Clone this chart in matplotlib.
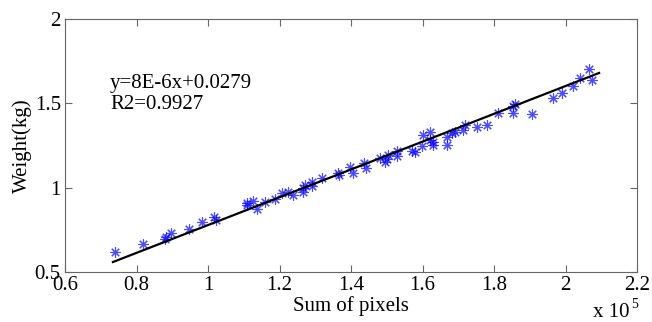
"""Weight vs sum of pixels: scatter with linear fit line."""

import numpy as np
import matplotlib
matplotlib.use("Agg")
import matplotlib.pyplot as plt

plt.rcParams["font.family"] = ["Liberation Serif", "DejaVu Serif"]

sum_pixels = [
    0.74, 0.818, 0.88, 0.882, 0.896, 0.947, 0.983, 1.017, 1.022,
    1.109, 1.110, 1.126, 1.137, 1.16, 1.187, 1.207, 1.224, 1.238,
    1.266, 1.266, 1.27, 1.29, 1.29, 1.32, 1.364, 1.366, 1.397, 1.405,
    1.436, 1.442, 1.48, 1.495, 1.503, 1.50, 1.529, 1.53, 1.571, 1.579,
    1.599, 1.60, 1.621, 1.621, 1.629, 1.629, 1.668, 1.668, 1.683, 1.69,
    1.719, 1.713, 1.752, 1.78, 1.811, 1.853, 1.853, 1.859,
    1.906, 1.965, 1.99, 2.021, 2.04, 2.066, 2.074,
]
weight = [
    0.62, 0.666, 0.696, 0.71, 0.73, 0.755, 0.797, 0.826, 0.808,
    0.909, 0.895, 0.92, 0.873, 0.915, 0.933, 0.968, 0.974, 0.956,
    0.998, 0.975, 1.016, 1.034, 1.01, 1.057, 1.087, 1.078, 1.122, 1.087,
    1.146, 1.116, 1.176, 1.152, 1.193, 1.17, 1.19, 1.22, 1.22, 1.21,
    1.247, 1.312, 1.33, 1.282, 1.27, 1.253, 1.30, 1.253, 1.324, 1.33,
    1.37, 1.342, 1.36, 1.37, 1.442, 1.442, 1.484, 1.496,
    1.437, 1.53, 1.56, 1.603, 1.65, 1.703, 1.638,
]

# fitted line as drawn
fit_x = [0.734, 2.094]
fit_y = [0.559, 1.68]
fit_text = "y=8E-6x+0.0279\nR2=0.9927"

FS = 15

fig = plt.figure(figsize=(6.52, 3.22), dpi=100)
ax = fig.add_axes([0.0997, 0.1553, 0.8773, 0.7857])

ax.plot(sum_pixels, weight, linestyle="none", marker=(8, 2, 0), markersize=7.5,
        markeredgewidth=0.8, color="#0000ff", alpha=0.7)
ax.plot(fit_x, fit_y, color="black", linewidth=1.6)

ax.set_xlim(0.6, 2.2)
ax.set_ylim(0.5, 2)
ax.set_xticks([0.6, 0.8, 1, 1.2, 1.4, 1.6, 1.8, 2, 2.2])
ax.set_xticklabels(["0.6", "0.8", "1", "1.2", "1.4", "1.6", "1.8", "2", "2.2"])
ax.set_yticks([0.5, 1, 1.5, 2])
ax.set_yticklabels(["0.5", "1", "1.5", "2"])
ax.tick_params(direction="in", length=5, width=0.8, color="#666666",
               labelsize=FS, top=True, right=True, pad=3)
for s in ax.spines.values():
    s.set_color("#666666")
    s.set_linewidth(0.8)

ax.text(0.726, 1.672, fit_text, fontsize=FS, va="top", ha="left", linespacing=1.15)
ax.set_xlabel("Sum of pixels", fontsize=FS)
ax.xaxis.set_label_coords(0.5, -0.095)
ax.set_ylabel("Weight(kg)", fontsize=FS)
ax.yaxis.set_label_coords(-0.058, 0.5)

fig.text(0.909, 0.016, "x 10", fontsize=FS, ha="left", va="baseline")
fig.text(0.968, 0.044, "5", fontsize=10, ha="left", va="baseline")

fig.savefig("out.png", dpi=100)
